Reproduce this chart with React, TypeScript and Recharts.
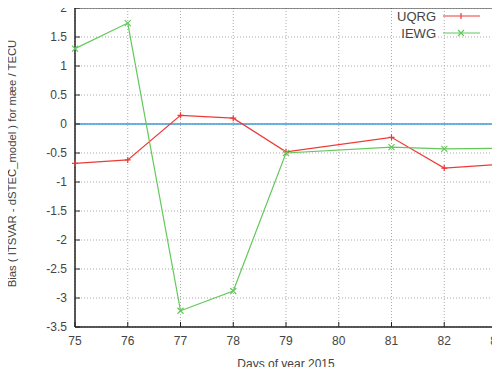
import {
  LineChart,
  Line,
  XAxis,
  YAxis,
  CartesianGrid,
  ReferenceLine,
  ReferenceArea,
} from 'recharts';

// day-of-year, day 80 has no data (lines jump 79 -> 81)
const DAYS = [75, 76, 77, 78, 79, 80, 81, 82, 83];
const UQRG = [-0.68, -0.62, 0.15, 0.1, -0.48, null, -0.23, -0.76, -0.7];
const IEWG = [1.3, 1.74, -3.22, -2.88, -0.5, null, -0.4, -0.43, -0.42];
const X_TICKS = [75, 76, 77, 78, 79, 80, 81, 82, 83];
const Y_TICKS = [2, 1.5, 1, 0.5, 0, -0.5, -1, -1.5, -2, -2.5, -3, -3.5];
const SERIES = ['UQRG', 'IEWG'];

const RED = '#ee3a36';
const GREEN = '#62c95a';
const BLUE = '#3d9bd8';
const TXT = '#444';
const FONT = '"Liberation Sans", Arial, sans-serif';

const data = DAYS.map((d, i) => ({ day: d, uqrg: UQRG[i], iewg: IEWG[i] }));

// gnuplot-ish point markers
function PlusDot(props: any) {
  const { cx, cy } = props;
  if (cx == null || cy == null || props.value == null) return null;
  return (
    <path d={`M${cx - 3},${cy}H${cx + 3}M${cx},${cy - 3}V${cy + 3}`} stroke={RED} strokeWidth={1.2} />
  );
}

function CrossDot(props: any) {
  const { cx, cy } = props;
  if (cx == null || cy == null || props.value == null) return null;
  return (
    <path
      d={`M${cx - 3},${cy - 3}L${cx + 3},${cy + 3}M${cx - 3},${cy + 3}L${cx + 3},${cy - 3}`}
      stroke={GREEN}
      strokeWidth={1.2}
    />
  );
}

// key drawn inside the plot, top right (gnuplot style), so it doesn't eat layout space
function KeyBox() {
  const colors = [RED, GREEN];
  return (
    <svg width={120} height={40} style={{ position: 'absolute', left: 380, top: 3, zIndex: 2 }}>
      {SERIES.map((name, i) => {
        const y = 13 + i * 17;
        const c = colors[i];
        return (
          <g key={name}>
            <text x={56} y={y + 4.5} textAnchor="end" fontSize={13} fill={TXT} fontFamily={FONT}>
              {name}
            </text>
            <line x1={63} x2={100} y1={y} y2={y} stroke={c} strokeWidth={1.2} />
            {i === 1 ? (
              <path d={`M78,${y - 3}L84,${y + 3}M78,${y + 3}L84,${y - 3}`} stroke={c} strokeWidth={1.2} />
            ) : (
              <path d={`M81,${y - 3}V${y + 3}`} stroke={c} strokeWidth={1.2} />
            )}
          </g>
        );
      })}
    </svg>
  );
}

function YLabel(props: any) {
  const vb = props.viewBox || { x: 0, y: 0, height: 0 };
  const x = vb.x + 16;
  const y = vb.y + vb.height / 2 - 4;
  return (
    <text
      x={x}
      y={y}
      transform={`rotate(-90 ${x} ${y})`}
      textAnchor="middle"
      fontSize={11.3}
      fill={TXT}
      fontFamily={FONT}
    >
      Bias ( ITSVAR - dSTEC_model ) for mæe / TECU
    </text>
  );
}

export default function App() {
  return (
    <div style={{ position: 'relative', width: 500, height: 375, margin: -8, background: '#fff', overflow: 'hidden' }}>
      {/* bits of the neighbouring figure that got cropped in */}
      <div style={{ position: 'absolute', left: 0, top: 14, width: 7, height: 3, background: '#7ccf6a' }} />
      <div style={{ position: 'absolute', left: 0, top: 171, width: 9, height: 2, background: '#222' }} />
      <div style={{ position: 'absolute', left: 0, top: 341, width: 6, height: 10, background: '#2a8fb0', borderRadius: 3 }} />
      <div style={{ position: 'absolute', left: 0, top: 358, width: 7, height: 17, background: '#1f9fbf', borderRadius: 3 }} />
      <KeyBox />
      <LineChart width={500} height={375} data={data} margin={{ top: 8, right: 3, bottom: 0, left: 0 }}>
        <CartesianGrid stroke="#aaa" strokeDasharray="1 2" />
        <ReferenceArea x1={75} x2={83} y1={-3.5} y2={2} fill="none" stroke="#222" strokeWidth={1} ifOverflow="visible" />
        <XAxis
          dataKey="day"
          type="number"
          domain={[75, 83]}
          ticks={X_TICKS}
          interval={0}
          height={48}
          axisLine={{ stroke: '#222' }}
          tickLine={{ stroke: '#222' }}
          tickSize={-5}
          tickMargin={14}
          tick={{ fontSize: 12, fill: TXT, fontFamily: FONT }}
          label={{ value: 'Days of year 2015', position: 'insideBottom', offset: 7, fontSize: 12, fill: TXT, fontFamily: FONT }}
        />
        <YAxis
          type="number"
          domain={[-3.5, 2]}
          ticks={Y_TICKS}
          interval={0}
          width={75}
          axisLine={{ stroke: '#222' }}
          tickLine={{ stroke: '#222' }}
          tickSize={-5}
          tickMargin={13}
          tick={{ fontSize: 12, fill: TXT, fontFamily: FONT }}
          label={{ content: YLabel }}
        />
        <ReferenceLine y={0} stroke={BLUE} strokeWidth={1.5} />
        <Line
          dataKey="uqrg"
          name="UQRG"
          stroke={RED}
          strokeWidth={1.2}
          dot={<PlusDot />}
          connectNulls
          isAnimationActive={false}
        />
        <Line
          dataKey="iewg"
          name="IEWG"
          stroke={GREEN}
          strokeWidth={1.2}
          dot={<CrossDot />}
          connectNulls
          isAnimationActive={false}
        />
      </LineChart>
    </div>
  );
}
